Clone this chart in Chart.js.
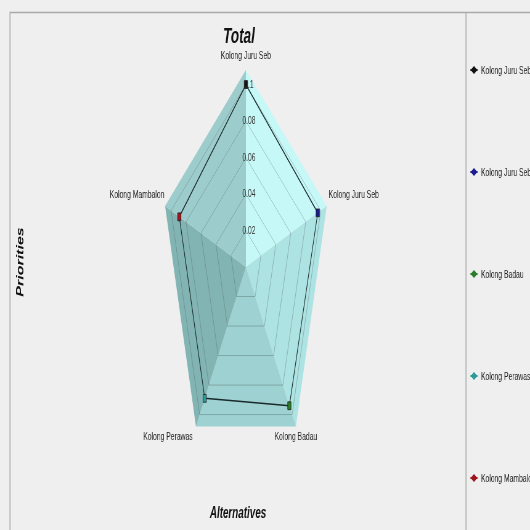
<!DOCTYPE html>
<html>
<head>
<meta charset="utf-8">
<script src="https://cdn.jsdelivr.net/npm/chart.js@4/dist/chart.umd.min.js"></script>
<style>
  html, body { margin: 0; padding: 0; background: #efefef; }
  #chart { display: block; width: 530px; height: 530px; }
</style>
</head>
<body>
<canvas id="chart" width="860" height="530" style="width:530px;height:530px"></canvas>
<script>
// DATA
const alternatives = ["Kolong Juru Seb", "Kolong Juru Seb", "Kolong Badau", "Kolong Perawas", "Kolong Mambalon"];
const priorities = [0.100, 0.096, 0.094, 0.089, 0.089];
const tickValues = [0.02, 0.04, 0.06, 0.08, 0.1];
const tickLabels = ["0.02", "0.04", "0.06", "0.08", "0.1"];
const scaleMax = 0.108;

// colours
const pointColors = ["#111111", "#1c1c8c", "#2a7d2a", "#2d9a9a", "#9c1420"];
const facetColors = ["#c6f8f8", "#aee3e3", "#9ed1d1", "#82b4b4", "#9dcccc"];

// the canvas is drawn 860 wide and squeezed to 530 by css, the pentagon gets squeezed more
const S = 530 / 860;
const KX = 0.70;
const FONT = "'Liberation Sans', Arial, sans-serif";

function squeeze(r, p) {
  return { x: r.xCenter + (p.x - r.xCenter) * KX, y: p.y };
}

const squeezePlugin = {
  id: "squeeze",
  beforeDraw(chart) {
    const ctx = chart.ctx;
    const r = chart.scales.r;
    ctx.save();
    ctx.fillStyle = "#efefef";
    ctx.fillRect(0, 0, chart.width, chart.height);
    ctx.translate(r.xCenter, 0);
    ctx.scale(KX, 1);
    ctx.translate(-r.xCenter, 0);
    // shaded facets of the pentagon
    const n = alternatives.length;
    for (let i = 0; i < n; i++) {
      const a = r.getPointPositionForValue(i, scaleMax);
      const b = r.getPointPositionForValue((i + 1) % n, scaleMax);
      ctx.beginPath();
      ctx.moveTo(r.xCenter, r.yCenter);
      ctx.lineTo(a.x, a.y);
      ctx.lineTo(b.x, b.y);
      ctx.closePath();
      ctx.fillStyle = facetColors[i];
      ctx.fill();
    }
  },
  afterDatasetsDraw(chart) {
    chart.ctx.restore();
  },
  afterDraw(chart) {
    const ctx = chart.ctx;
    const r = chart.scales.r;
    ctx.save();

    // panel borders
    ctx.strokeStyle = "#a9a9a9";
    ctx.lineWidth = 1.5;
    ctx.beginPath();
    ctx.moveTo(10 / S, 530); ctx.lineTo(10 / S, 12.5); ctx.lineTo(chart.width, 12.5);
    ctx.moveTo(466 / S, 12.5); ctx.lineTo(466 / S, 530);
    ctx.stroke();

    // tick labels
    ctx.fillStyle = "#333";
    ctx.font = "11px " + FONT;
    ctx.textAlign = "center";
    ctx.textBaseline = "middle";
    tickValues.forEach((v, i) => {
      const d = r.getDistanceFromCenterForValue(v);
      ctx.fillText(tickLabels[i], r.xCenter + 3 / S, r.yCenter - d);
    });

    // point labels
    const offsets = [[0, -14], [27, -11], [0, 11], [-28, 11], [-28, -11]];
    ctx.fillStyle = "#222";
    alternatives.forEach((name, i) => {
      const p = squeeze(r, r.getPointPositionForValue(i, scaleMax));
      ctx.fillText(name, p.x + offsets[i][0] / S, p.y + offsets[i][1]);
    });

    // titles
    ctx.fillStyle = "#111";
    ctx.font = "italic bold 22px " + FONT;
    ctx.fillText("Total", 239 / S, 37);
    ctx.font = "italic bold 16px " + FONT;
    ctx.fillText("Alternatives", 238 / S, 514);
    ctx.save();
    ctx.translate(21 / S, 262);
    ctx.rotate(-Math.PI / 2);
    ctx.fillText("Priorities", 0, 0);
    ctx.restore();

    // legend
    ctx.font = "11px " + FONT;
    ctx.textAlign = "left";
    alternatives.forEach((name, i) => {
      const y = 70 + i * 102;
      const x = 474 / S;
      ctx.strokeStyle = pointColors[i];
      ctx.lineWidth = 1.5;
      ctx.beginPath();
      ctx.moveTo(x - 6, y); ctx.lineTo(x + 6, y);
      ctx.stroke();
      ctx.fillStyle = pointColors[i];
      ctx.beginPath();
      ctx.moveTo(x, y - 4); ctx.lineTo(x + 5.5, y); ctx.lineTo(x, y + 4); ctx.lineTo(x - 5.5, y);
      ctx.closePath();
      ctx.fill();
      ctx.fillStyle = "#222";
      ctx.fillText(name, 481 / S, y + 0.5);
    });
    ctx.restore();
  }
};

const ctx = document.getElementById("chart").getContext("2d");
const chart = new Chart(ctx, {
  type: "radar",
  data: {
    labels: alternatives,
    datasets: [
      {
        label: "Total",
        data: priorities,
        borderColor: "#1a2a2a",
        borderWidth: 1.5,
        backgroundColor: "rgba(0,0,0,0)",
        fill: false,
        pointStyle: "rect",
        pointRadius: 5.5,
        pointBackgroundColor: pointColors,
        pointBorderColor: "#222",
        pointBorderWidth: 1,
      },
    ],
  },
  options: {
    responsive: false,
    animation: false,
    layout: { padding: { top: 70, bottom: 66, left: 100, right: 162 } },
    plugins: {
      legend: { display: false },
      title: { display: false },
      tooltip: { enabled: false },
    },
    scales: {
      r: {
        min: 0,
        max: scaleMax,
        ticks: { display: false, stepSize: 0.02 },
        pointLabels: { display: false },
        angleLines: { display: false },
        grid: {
          color: (c) => (c.tick && c.tick.value >= scaleMax ? "rgba(0,0,0,0)" : "rgba(80,100,100,0.45)"),
          lineWidth: 1,
        },
      },
    },
  },
  plugins: [squeezePlugin],
});
</script>
</body>
</html>
